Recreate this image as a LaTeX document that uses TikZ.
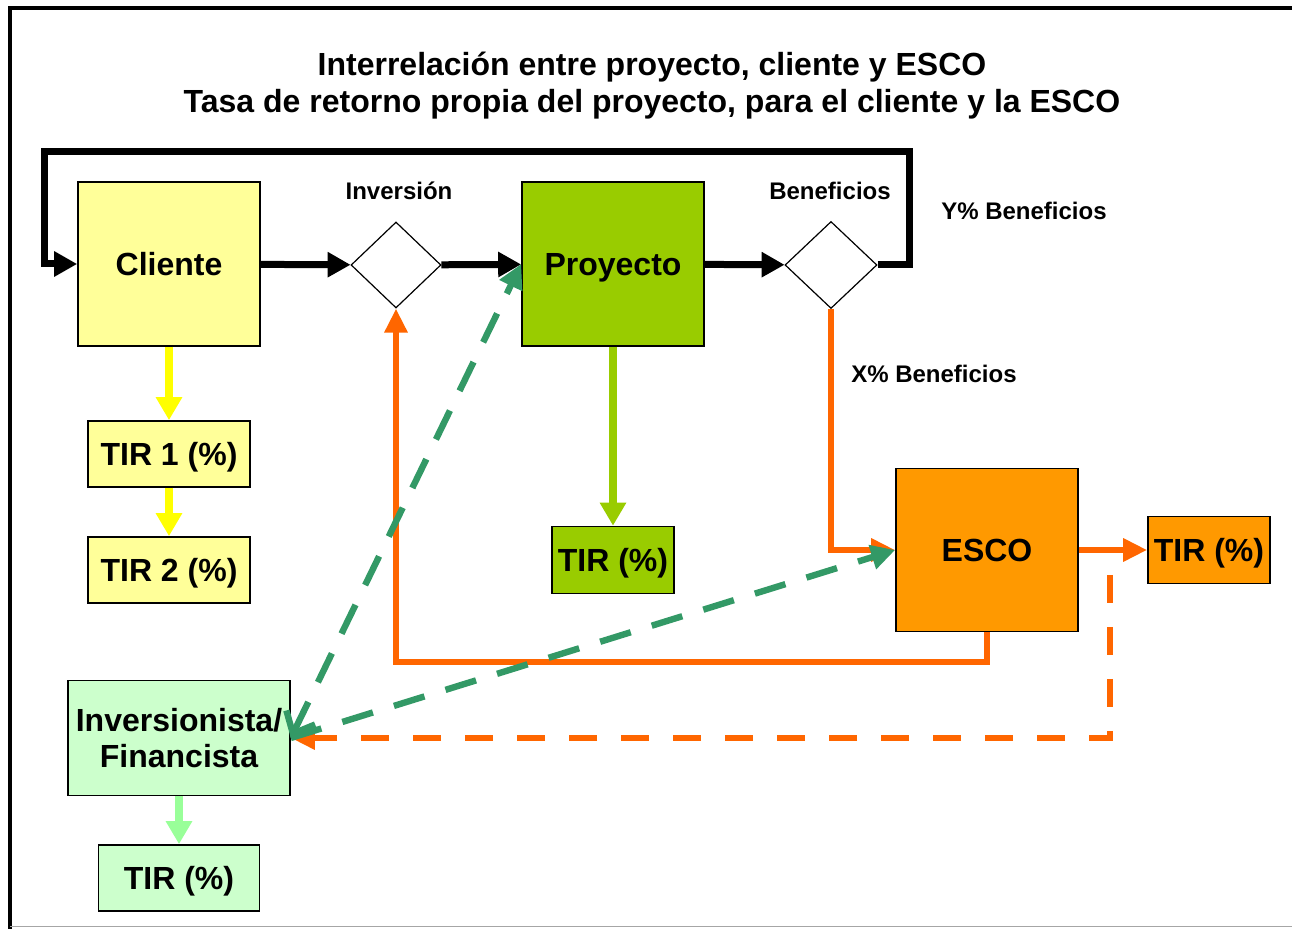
\documentclass[tikz,border=0pt]{standalone}
\usepackage{fontspec}
\setmainfont{Liberation Sans}
\usepackage{tikz}
\definecolor{cliente}{RGB}{255,255,153}
\definecolor{proyecto}{RGB}{153,204,0}
\definecolor{esco}{RGB}{255,153,0}
\definecolor{inversor}{RGB}{204,255,204}
\definecolor{naranja}{RGB}{255,102,0}
\definecolor{amarillo}{RGB}{255,255,0}
\definecolor{verdeosc}{RGB}{51,153,102}
\definecolor{verdeclaro}{RGB}{153,255,153}
\usetikzlibrary{arrows.meta,shapes.geometric}
\tikzset{%
  box/.style={draw, line width=0.8pt, rectangle, inner sep=0pt, align=center,
    font=\fontsize{16}{18}\selectfont\bfseries},% actor box
  oneline/.style={box, text height=13pt, text depth=1.5pt},% single line text
  bigbox/.style={oneline, minimum width=91pt, minimum height=82pt},% main actors
  tirbox/.style={oneline, minimum height=33pt},% TIR box
  decision/.style={draw, line width=0.6pt, diamond, inner sep=0pt, fill=white},% split point
  lbl/.style={font=\fontsize{12}{14}\selectfont\bfseries},% small label
  flow/.style={line width=3.5pt, -{Triangle[length=11.5pt, width=12pt]}},% black flow
  tirarrow/.style={line width=4pt, -{Triangle[length=11.5pt, width=12.5pt]}},% box -> TIR
  money/.style={naranja, line width=3pt, -{Triangle[length=12pt, width=11pt]}},% orange flow
  finance/.style={verdeosc, line width=3.2pt, dash pattern=on 16pt off 11pt}% financing
}

\begin{document}
\begin{tikzpicture}[x=0.5pt, y=-0.5pt]
\useasboundingbox (0,0) rectangle (1292,929);

% frame
\draw[line width=2pt] (1292,8) -- (10,8) -- (10,929);
\draw[black!35, line width=0.8pt] (10,926.5) -- (1292,926.5);

\node[font=\fontsize{16}{18.5}\selectfont\bfseries, align=center] (title) at (652,86)
  {Interrelación entre proyecto, cliente y ESCO\\Tasa de retorno propia del proyecto, para el cliente y la ESCO};

\node[bigbox, fill=cliente] (cli) at (169,264) {Cliente};
\node[bigbox, fill=proyecto] (proy) at (613,264) {Proyecto};
\node[bigbox, minimum height=81.5pt, fill=esco] (esco) at (987,550) {ESCO};
\node[box, minimum width=111pt, minimum height=57.5pt, fill=inversor] (inv) at (179,738) {Inversionista/\\Financista};

\node[decision, minimum width=45pt, minimum height=43pt] (dinv) at (396,265) {};
\node[decision, minimum width=46pt, minimum height=43.5pt] (dben) at (831,265) {};

\node[tirbox, minimum width=81pt, fill=cliente] (tir1) at (169,454) {TIR 1 (\%)};
\node[tirbox, minimum width=81pt, fill=cliente] (tir2) at (169,570) {TIR 2 (\%)};
\node[tirbox, minimum width=61pt, minimum height=33.5pt, fill=proyecto] (tirp) at (613,560) {TIR (\%)};
\node[tirbox, minimum width=61pt, minimum height=33.5pt, fill=esco] (tire) at (1209,550) {TIR (\%)};
\node[tirbox, minimum width=80.5pt, fill=inversor] (tiri) at (179,878) {TIR (\%)};

\node[lbl] (linv) at (399,191) {Inversión};
\node[lbl] (lben) at (830,191) {Beneficios};
\node[lbl] (ly) at (1024,211) {Y\% Beneficios};
\node[lbl] (lx) at (934,374) {X\% Beneficios};

\coordinate (loopR) at (909,152);
\coordinate (loopL) at (44,152);
\coordinate (ret) at (396,662);
\coordinate (dsh) at (1110,575);

% main flow
\draw (cli) edge[flow] (dinv);
\draw (dinv) edge[flow] (proy);
\draw (proy) edge[flow] (dben);
\draw[flow] (dben.east) -| (loopR) -- (loopL) |- (cli.west);

% TIR arrows
\draw[tirarrow, amarillo] (cli) -- (tir1);
\draw[tirarrow, amarillo] (tir1) -- (tir2);
\draw[tirarrow, proyecto] (proy) -- (tirp);
\draw[tirarrow, verdeclaro] (inv) -- (tiri);

% ESCO money
\draw[money] (dben.south) |- (esco.west);
\draw[money] (esco.east) -- (tire.west);
\draw[money] (esco.south) |- (ret) -- (dinv.south);
\draw[money, dash pattern=on 14pt off 12pt] (dsh) |- (inv.east);

% financing
\draw[finance, {Straight Barb[length=9pt, width=16pt]}-{Triangle[length=12pt, width=12pt]}] (inv.east) -- (proy.west);
\draw[finance, -{Triangle[length=12pt, width=12pt]}] (inv.east) -- (esco.west);

\end{tikzpicture}
\end{document}
